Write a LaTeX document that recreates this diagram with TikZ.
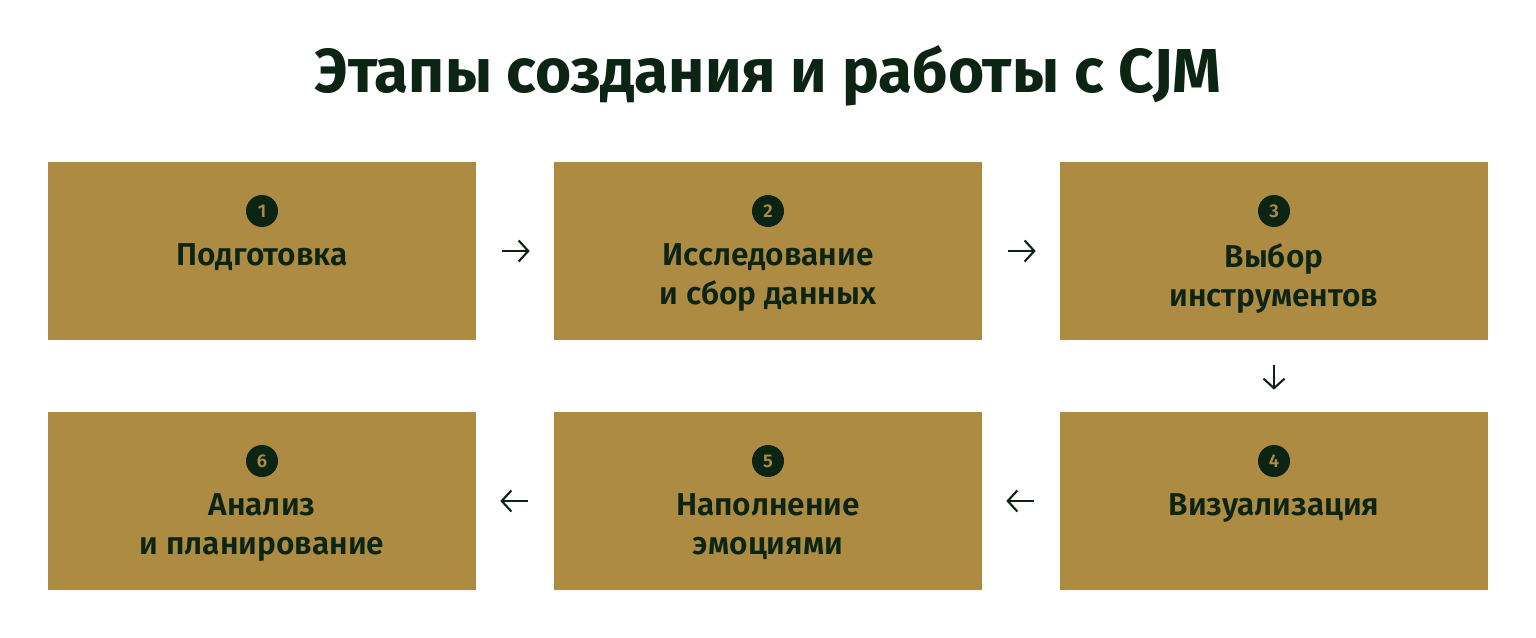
\documentclass[tikz,border=0pt]{standalone}
\usepackage{fontspec}
\setmainfont{Fira Sans}[BoldFont={Fira Sans SemiBold}]
\newfontfamily\titlefont{Fira Sans Bold}
\usetikzlibrary{positioning,arrows.meta}
\definecolor{cjmgold}{HTML}{AD8B42}
\definecolor{cjmdark}{HTML}{0C2413}

\begin{document}
\begin{tikzpicture}[x=0.02cm, y=-0.02cm,
    stagebox/.style={fill=cjmgold, minimum width=8.56cm, minimum height=3.56cm, inner sep=0},
    stagenum/.style={circle, fill=cjmdark, text=cjmgold, minimum size=0.64cm, inner sep=0,
        font=\bfseries\fontsize{10.5}{10.5}\selectfont},
    stagetext/.style={anchor=north, inner sep=0, align=center, text=cjmdark,
        font=\bfseries\fontsize{18}{22}\selectfont},
    flow/.style={-{Straight Barb[length=5.5pt, width=12pt]}, line width=1.2pt, cjmdark,
        shorten <=0.52cm, shorten >=0.48cm}]
    \useasboundingbox (0,0) rectangle (1536,638);

    % Title
    \node[anchor=base, text=cjmdark, font=\titlefont\fontsize{35.3}{40}\selectfont] (title) at (768,93)
        {Этапы создания и работы с CJM};

    % Stage boxes
    \node[stagebox] (b1) at (262,251) {};
    \node[stagebox] (b2) at (768,251) {};
    \node[stagebox] (b3) at (1274,251) {};
    \node[stagebox] (b4) at (1274,501) {};
    \node[stagebox] (b5) at (768,501) {};
    \node[stagebox] (b6) at (262,501) {};

    % Numbers
    \node[stagenum, below=0.66cm of b1.north] (n1) {1};
    \node[stagenum, below=0.66cm of b2.north] (n2) {2};
    \node[stagenum, below=0.66cm of b3.north] (n3) {3};
    \node[stagenum, below=0.66cm of b4.north] (n4) {4};
    \node[stagenum, below=0.66cm of b5.north] (n5) {5};
    \node[stagenum, below=0.66cm of b6.north] (n6) {6};

    % Stage names
    \node[stagetext, below=1.64cm of b1.north] (t1) {Подготовка};
    \node[stagetext, below=1.64cm of b2.north] (t2) {Исследование\\и сбор данных};
    \node[stagetext, below=1.64cm of b3.north] (t3) {Выбор\\инструментов};
    \node[stagetext, below=1.64cm of b4.north] (t4) {Визуализация};
    \node[stagetext, below=1.64cm of b5.north] (t5) {Наполнение\\эмоциями};
    \node[stagetext, below=1.64cm of b6.north] (t6) {Анализ\\и планирование};

    % Arrows between stages
    \draw[flow] (b1) -- (b2);
    \draw[flow] (b2) -- (b3);
    \draw[flow, shorten <=0.5cm, shorten >=0.44cm] (b3) -- (b4);
    \draw[flow] (b4) -- (b5);
    \draw[flow] (b5) -- (b6);
\end{tikzpicture}
\end{document}
